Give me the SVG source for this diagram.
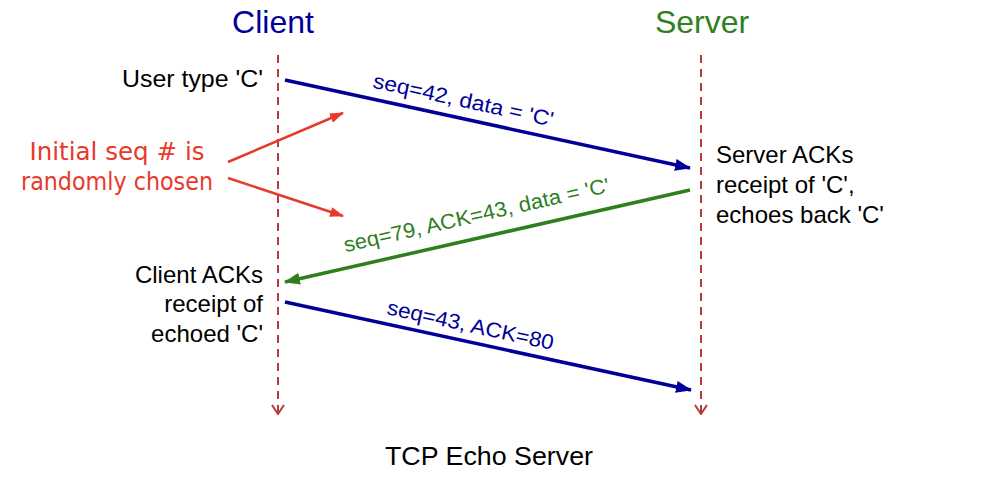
<svg xmlns="http://www.w3.org/2000/svg" width="994" height="488" viewBox="0 0 994 488">
<style>
text{font-family:"Liberation Sans","DejaVu Sans",Arial,sans-serif;}
.title{font-size:32px;text-anchor:middle;}
.note{font-size:24px;fill:#000;}
.lbl{font-size:21px;text-anchor:middle;}
.red{font-size:25px;fill:#e8392b;text-anchor:middle;font-family:"DejaVu Sans","Liberation Sans",sans-serif;}
.life{stroke:#b83a3a;stroke-width:2;stroke-dasharray:8 6;fill:none;}
.blue{stroke:#000099;stroke-width:3.5;fill:none;}
.green{stroke:#2f7f1f;stroke-width:3.5;fill:none;}
.redl{stroke:#e8392b;stroke-width:2.5;fill:none;}
</style>
<defs>
<marker id="ab" markerUnits="userSpaceOnUse" markerWidth="16" markerHeight="12" refX="15" refY="6" orient="auto"><path d="M0,0 L16,6 L0,12 z" fill="#000099"/></marker>
<marker id="ag" markerUnits="userSpaceOnUse" markerWidth="16" markerHeight="12" refX="15" refY="6" orient="auto"><path d="M0,0 L16,6 L0,12 z" fill="#2f7f1f"/></marker>
<marker id="ar" markerUnits="userSpaceOnUse" markerWidth="14" markerHeight="10" refX="13" refY="5" orient="auto"><path d="M0,0 L14,5 L0,10 z" fill="#e8392b"/></marker>
<marker id="av" markerUnits="userSpaceOnUse" markerWidth="14" markerHeight="12" refX="7" refY="11" orient="0"><path d="M1,2 L7,11 L13,2" fill="none" stroke="#b83a3a" stroke-width="2"/></marker>
</defs>
<g id="client">
<text class="title" x="273" y="33" fill="#000099">Client</text>
<line class="life" x1="278" y1="55" x2="278" y2="414" marker-end="url(#av)"/>
</g>
<g id="server">
<text class="title" x="702" y="33" fill="#2f7f1f">Server</text>
<line class="life" x1="701" y1="55" x2="701" y2="414" marker-end="url(#av)"/>
</g>
<g id="note-user">
<text class="note" x="263" y="87" text-anchor="end" textLength="141" lengthAdjust="spacingAndGlyphs">User type 'C'</text>
</g>
<g id="note-server">
<text class="note" x="716" y="163">Server ACKs</text>
<text class="note" x="716" y="193">receipt of 'C',</text>
<text class="note" x="716" y="223">echoes back 'C'</text>
</g>
<g id="note-client">
<text class="note" x="263" y="283" text-anchor="end">Client ACKs</text>
<text class="note" x="263" y="312" text-anchor="end">receipt of</text>
<text class="note" x="263" y="342" text-anchor="end">echoed 'C'</text>
</g>
<g id="note-random">
<text class="red" x="117" y="160" textLength="175" lengthAdjust="spacingAndGlyphs">Initial seq # is</text>
<text class="red" x="117" y="190" textLength="192" lengthAdjust="spacingAndGlyphs">randomly chosen</text>
</g>
<g id="connectors">
<line class="blue" x1="285" y1="80" x2="690" y2="168" marker-end="url(#ab)"/>
<line class="green" x1="690" y1="190" x2="285" y2="282" marker-end="url(#ag)"/>
<line class="blue" x1="285" y1="302" x2="691" y2="390" marker-end="url(#ab)"/>
<line class="redl" x1="228" y1="162" x2="343" y2="113" marker-end="url(#ar)"/>
<line class="redl" x1="228" y1="178" x2="343" y2="216" marker-end="url(#ar)"/>
<text class="lbl" fill="#000099" transform="translate(462,107) rotate(12.3)" textLength="184" lengthAdjust="spacingAndGlyphs">seq=42, data = 'C'</text>
<text class="lbl" fill="#2f7f1f" transform="translate(478,222) rotate(-12.8)" textLength="272" lengthAdjust="spacingAndGlyphs">seq=79, ACK=43, data = 'C'</text>
<text class="lbl" fill="#000099" transform="translate(469,332) rotate(12.2)" textLength="170" lengthAdjust="spacingAndGlyphs">seq=43, ACK=80</text>
</g>
<text x="489" y="465" font-size="26" text-anchor="middle" textLength="208" lengthAdjust="spacingAndGlyphs">TCP Echo Server</text>
</svg>
